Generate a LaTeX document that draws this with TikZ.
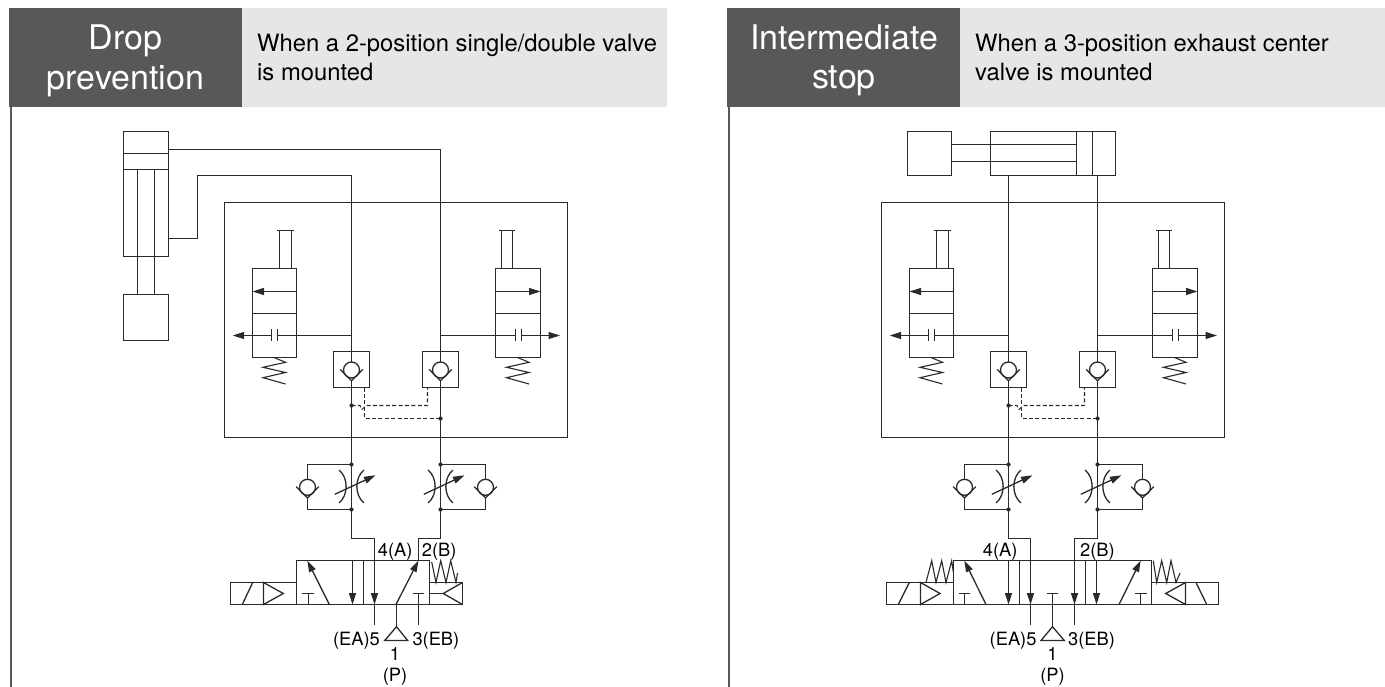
\documentclass[tikz,border=0pt]{standalone}
\usepackage{fontspec}
\setmainfont{TeX Gyre Heros}
\usetikzlibrary{arrows.meta}
\definecolor{headdark}{HTML}{595757}
\definecolor{headlight}{HTML}{E6E6E6}
\definecolor{ink}{HTML}{2A2A2A}
\tikzset{
  x=1pt,y=-1pt,
  pipe/.style={draw=ink,line width=1.3pt},
  flow/.style={pipe,-{Triangle[length=11.5pt,width=7pt]}},
  dashpipe/.style={pipe,line width=1.05pt,dash pattern=on 4pt off 2.4pt},
  jointdot/.style={circle,fill=ink,inner sep=0pt,minimum size=4.2pt},
  headbig/.style={inner sep=0pt,text=white,font=\fontsize{34}{40}\selectfont},
  headsmall/.style={inner sep=0pt,anchor=base west,text=black,font=\fontsize{23.8}{28}\selectfont},
  port/.style={inner sep=0pt,text=black,font=\fontsize{18.3}{20}\selectfont}
}
\newcommand{\checkvalve}[2]{%
  \draw[pipe] (#1,#2) circle[radius=8];
  \draw[pipe] (#1-11.3,#2-0.6) -- (#1,#2+10.7) -- (#1+11.3,#2-0.6);
}
\newcommand{\throttle}[1]{%
  \draw[pipe] (#1-12.4,470) .. controls (#1-3,478) and (#1-3,495) .. (#1-12.4,503);
  \draw[pipe] (#1+12.4,470) .. controls (#1+3,478) and (#1+3,495) .. (#1+12.4,503);
  \draw[flow] (#1-16.7,494.3) -- (#1+24,475.3);
}
\newcommand{\pilotspring}[1]{%
  \draw[pipe,line width=1.1pt] (#1,357.5) -- (#1+11.5,362.3) -- (#1-11,367.3) -- (#1+11.5,372.5) -- (#1-11,377.7) -- (#1+11.5,384);
}
\newcommand{\circuitblock}{%
  \draw[pipe] (224.5,202.5) rectangle (567.5,437.5);
  % left pilot valve
  \draw[pipe] (252.5,268.5) rectangle (296.5,357.5);
  \draw[pipe] (252.5,313.5) -- (296.5,313.5);
  \draw[flow] (296.5,291.5) -- (252.5,291.5);
  \draw[pipe] (279.5,268.5) -- (279.5,230.5);
  \draw[pipe] (291.5,268.5) -- (291.5,230.5);
  \draw[pipe] (277,230.5) -- (293.7,230.5);
  \pilotspring{274}
  % right pilot valve
  \draw[pipe] (495.5,268.5) rectangle (540.5,357.5);
  \draw[pipe] (495.5,313.5) -- (540.5,313.5);
  \draw[flow] (495.5,291.5) -- (540.5,291.5);
  \draw[pipe] (501.5,268.5) -- (501.5,230.5);
  \draw[pipe] (512.5,268.5) -- (512.5,230.5);
  \draw[pipe] (498.7,230.5) -- (515.3,230.5);
  \pilotspring{517.5}
  % bleed lines
  \draw[pipe] (351.5,335.5) -- (277.5,335.5);
  \draw[flow] (271.5,335.5) -- (232.7,335.5);
  \draw[pipe] (271.5,329) -- (271.5,341);
  \draw[pipe] (277.5,329) -- (277.5,341);
  \draw[pipe] (440.5,335.5) -- (515.5,335.5);
  \draw[flow] (521.5,335.5) -- (560,335.5);
  \draw[pipe] (515.5,329) -- (515.5,341);
  \draw[pipe] (521.5,329) -- (521.5,341);
  % pilot check valves
  \draw[pipe] (333.5,351.5) rectangle (369.5,387.5);
  \draw[pipe] (422.5,351.5) rectangle (458.5,387.5);
  \checkvalve{351.5}{370}
  \checkvalve{440.5}{370}
  \draw[pipe] (351.5,202.5) -- (351.5,362);
  \draw[pipe] (440.5,202.5) -- (440.5,362);
  \draw[pipe] (351.5,380.7) -- (351.5,538.5);
  \draw[pipe] (440.5,380.7) -- (440.5,538.5);
  % dashed pilot lines
  \draw[dashpipe] (364.5,387.5) -- (364.5,418.5) -- (440.5,418.5);
  \draw[dashpipe] (351.5,405.5) -- (360,405.5) -- (362,409.5) -- (366,405.5) -- (427.5,405.5) -- (427.5,387.5);
  \node[jointdot] (dl) at (351.5,405.5) {};
  \node[jointdot] (dr) at (440.5,418.5) {};
  % speed controllers
  \draw[pipe] (351.5,464.5) -- (307.5,464.5) -- (307.5,479.3);
  \draw[pipe] (351.5,509.5) -- (307.5,509.5) -- (307.5,498);
  \checkvalve{307.5}{487.3}
  \draw[pipe] (440.5,464.5) -- (485.5,464.5) -- (485.5,479.3);
  \draw[pipe] (440.5,509.5) -- (485.5,509.5) -- (485.5,498);
  \checkvalve{485.5}{487.3}
  \throttle{351.5}
  \throttle{440.5}
  \node[jointdot] (a) at (351.5,464.5) {};
  \node[jointdot] (b) at (351.5,509.5) {};
  \node[jointdot] (c) at (440.5,464.5) {};
  \node[jointdot] (d) at (440.5,509.5) {};
}
\begin{document}
\begin{tikzpicture}
\useasboundingbox (0,0) rectangle (1385,687);
% headers
\fill[headdark] (9,8) rectangle (241.7,106.7);
\fill[headlight] (241.7,8) rectangle (667,106.7);
\fill[headdark] (727,8) rectangle (960,106.7);
\fill[headlight] (960,8) rectangle (1385,106.7);
\draw[draw=headdark,line width=2pt] (10.8,106.7) -- (10.8,687);
\draw[draw=headdark,line width=2pt] (728.5,106.7) -- (728.5,687);
\node[headbig,anchor=base] (t1a) at (125.4,50) {Drop};
\node[headbig,anchor=base] (t1b) at (125.4,90) {prevention};
\node[headbig,anchor=base] (t2a) at (844,50) {Intermediate};
\node[headbig,anchor=base] (t2b) at (844,88.5) {stop};
\node[headsmall] (s1a) at (257,51.7) {When a 2-position single/double valve};
\node[headsmall] (s1b) at (257,81) {is mounted};
\node[headsmall] (s2a) at (975,51.7) {When a 3-position exhaust center};
\node[headsmall] (s2b) at (975,81) {valve is mounted};

% ===== left circuit =====
\circuitblock
\draw[pipe] (123.5,131.5) rectangle (168.5,256.5);
\draw[pipe] (123.5,153.5) -- (168.5,153.5);
\draw[pipe] (123.5,169.5) -- (168.5,169.5);
\draw[pipe] (137.5,169.5) -- (137.5,294.5);
\draw[pipe] (154.5,169.5) -- (154.5,294.5);
\draw[pipe] (123.5,294.5) rectangle (168.5,340.5);
\draw[pipe] (168.5,149.5) -- (440.5,149.5) -- (440.5,202.5);
\draw[pipe] (168.5,238.5) -- (197.5,238.5) -- (197.5,175.5) -- (351.5,175.5) -- (351.5,202.5);
% main valve
\draw[pipe] (296.5,560.5) rectangle (429.5,604.5);
\draw[pipe] (363.5,560.5) -- (363.5,604.5);
\draw[pipe] (230.5,582.5) rectangle (296.5,604.5);
\draw[pipe] (263.5,582.5) -- (263.5,604.5) -- (283.3,593.5) -- cycle;
\draw[pipe] (242.3,604.5) -- (252.7,582.5);
\draw[pipe] (429.5,582.5) rectangle (462.5,604.5);
\draw[pipe] (462.5,582.5) -- (443.3,593.5) -- (462.5,604.5);
\draw[pipe] (429.5,593.5) -- (443.3,593.5);
\draw[pipe,line width=1.1pt] (431.7,562) -- (436,582.5) -- (440.7,560.7) -- (446,582.5) -- (450.7,560.7) -- (456,582.5) -- (457.5,573);
\draw[pipe] (308.5,604.5) -- (308.5,593.5);
\draw[pipe] (302.3,593.5) -- (314,593.5);
\draw[flow] (329.3,604.5) -- (307.3,560.5);
\draw[flow] (352.5,560.5) -- (352.5,604.5);
\draw[pipe] (351.5,538.5) -- (374.5,538.5) -- (374.5,625);
\draw[flow] (374.5,575) -- (374.5,604.5);
\draw[flow] (396,604.5) -- (418.5,560.5);
\draw[pipe] (396.5,604.5) -- (396.5,626.7);
\draw[pipe] (396.5,626.7) -- (384.7,640.5) -- (407.7,640.5) -- cycle;
\draw[pipe] (412.7,593.5) -- (424,593.5);
\draw[pipe] (418.5,593.5) -- (418.5,625);
\draw[pipe] (440.5,538.5) -- (418.5,538.5) -- (418.5,560.5);
\node[port,anchor=base west] (l4) at (377.7,556.7) {4(A)};
\node[port,anchor=base west] (l2) at (421.7,556.7) {2(B)};
\node[port,anchor=base east] (l5) at (380,645) {(EA)5};
\node[port,anchor=base west] (l3) at (412.3,645) {3(EB)};
\node[port,anchor=base] (l1) at (395,660) {1};
\node[port,anchor=base] (lp) at (395,681) {(P)};

% ===== right circuit =====
\begin{scope}[xshift=657pt]
\circuitblock
\end{scope}
\draw[pipe] (907.5,131.5) rectangle (951.5,175.5);
\draw[pipe] (990.5,131.5) rectangle (1115.5,175.5);
\draw[pipe] (1076.5,131.5) -- (1076.5,175.5);
\draw[pipe] (1092.5,131.5) -- (1092.5,175.5);
\draw[pipe] (951.5,144.5) -- (1076.5,144.5);
\draw[pipe] (951.5,161.5) -- (1076.5,161.5);
\draw[pipe] (1008.5,175.5) -- (1008.5,202.5);
\draw[pipe] (1097.5,175.5) -- (1097.5,202.5);
% main valve
\draw[pipe] (953.5,560.5) rectangle (1151.5,604.5);
\draw[pipe] (1019.5,560.5) -- (1019.5,604.5);
\draw[pipe] (1085.5,560.5) -- (1085.5,604.5);
\draw[pipe] (886.5,582.5) rectangle (953.5,604.5);
\draw[pipe] (920.5,582.5) -- (920.5,604.5) -- (940,593.5) -- cycle;
\draw[pipe] (898.3,604.5) -- (909.3,582.5);
\draw[pipe] (1151.5,582.5) rectangle (1218.5,604.5);
\draw[pipe] (1185.5,582.5) -- (1185.5,604.5) -- (1165.7,593.5) -- cycle;
\draw[pipe] (1196,582.5) -- (1206.7,604.5);
\draw[pipe,line width=1.1pt] (926,582.5) -- (931.7,560.7) -- (936,582.5) -- (941.7,560.7) -- (946,582.5) -- (951.7,560.7) -- (953.3,572);
\draw[pipe,line width=1.1pt] (1153.3,560.7) -- (1156.7,582.5) -- (1161.7,560.7) -- (1166.7,582.5) -- (1171,560.7) -- (1176,582.5) -- (1180,573);
\draw[pipe] (964.5,604.5) -- (964.5,593.5);
\draw[pipe] (959,593.5) -- (970,593.5);
\draw[flow] (986,604.5) -- (964.3,560.5);
\draw[flow] (1008.5,560.5) -- (1008.5,604.5);
\draw[pipe] (1008.5,538.5) -- (1030.5,538.5) -- (1030.5,625);
\draw[flow] (1030.5,575) -- (1030.5,604.5);
\draw[pipe] (1046.7,593.5) -- (1058.3,593.5);
\draw[pipe] (1052.5,593.5) -- (1052.5,626.7);
\draw[pipe] (1052.5,626.7) -- (1041,640.5) -- (1064.3,640.5) -- cycle;
\draw[pipe] (1097.5,538.5) -- (1074.5,538.5) -- (1074.5,625);
\draw[flow] (1074.5,575) -- (1074.5,604.5);
\draw[flow] (1096.5,560.5) -- (1096.5,604.5);
\draw[flow] (1119,604.5) -- (1140.7,560.5);
\draw[pipe] (1140.5,604.5) -- (1140.5,593.5);
\draw[pipe] (1135,593.5) -- (1146.7,593.5);
\node[port,anchor=base west] (r4) at (982.7,556.7) {4(A)};
\node[port,anchor=base west] (r2) at (1080,556.7) {2(B)};
\node[port,anchor=base east] (r5) at (1036.7,645) {(EA)5};
\node[port,anchor=base west] (r3) at (1068,645) {3(EB)};
\node[port,anchor=base] (r1) at (1052.5,660) {1};
\node[port,anchor=base] (rp) at (1052.5,681) {(P)};
\end{tikzpicture}
\end{document}
